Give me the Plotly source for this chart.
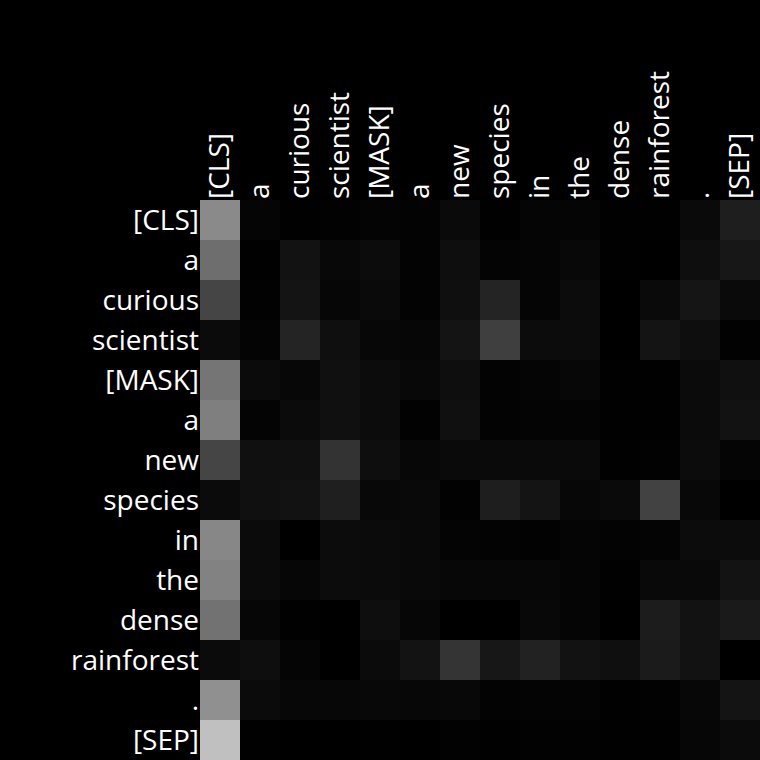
import plotly.graph_objects as go

tokens = ["[CLS]", "a", "curious", "scientist", "[MASK]", "a", "new",
          "species", "in", "the", "dense", "rainforest", ".", "[SEP]"]

attention = [
    [0.541, 0.020, 0.004, 0.008, 0.016, 0.012, 0.039, 0.004, 0.020, 0.020, 0.004, 0.004, 0.039, 0.118],
    [0.431, 0.004, 0.071, 0.031, 0.047, 0.012, 0.055, 0.016, 0.020, 0.031, 0.004, 0.000, 0.055, 0.090],
    [0.271, 0.008, 0.078, 0.024, 0.039, 0.012, 0.059, 0.141, 0.020, 0.047, 0.000, 0.039, 0.082, 0.039],
    [0.043, 0.016, 0.141, 0.059, 0.027, 0.024, 0.078, 0.247, 0.047, 0.047, 0.000, 0.078, 0.055, 0.008],
    [0.459, 0.043, 0.027, 0.063, 0.047, 0.031, 0.055, 0.012, 0.020, 0.027, 0.004, 0.004, 0.043, 0.063],
    [0.498, 0.016, 0.043, 0.063, 0.047, 0.008, 0.063, 0.012, 0.016, 0.016, 0.004, 0.004, 0.043, 0.071],
    [0.271, 0.063, 0.063, 0.200, 0.055, 0.027, 0.039, 0.039, 0.039, 0.039, 0.004, 0.008, 0.047, 0.020],
    [0.043, 0.063, 0.071, 0.122, 0.031, 0.035, 0.008, 0.118, 0.078, 0.027, 0.039, 0.259, 0.031, 0.000],
    [0.529, 0.043, 0.000, 0.047, 0.043, 0.035, 0.016, 0.012, 0.008, 0.020, 0.012, 0.016, 0.047, 0.047],
    [0.510, 0.043, 0.024, 0.047, 0.043, 0.035, 0.027, 0.027, 0.027, 0.020, 0.004, 0.035, 0.035, 0.075],
    [0.447, 0.024, 0.004, 0.000, 0.055, 0.024, 0.000, 0.000, 0.031, 0.020, 0.000, 0.110, 0.071, 0.102],
    [0.043, 0.055, 0.020, 0.000, 0.043, 0.075, 0.204, 0.090, 0.133, 0.071, 0.059, 0.106, 0.071, 0.000],
    [0.565, 0.043, 0.027, 0.027, 0.031, 0.027, 0.031, 0.012, 0.016, 0.016, 0.004, 0.008, 0.027, 0.078],
    [0.753, 0.004, 0.000, 0.000, 0.004, 0.000, 0.008, 0.004, 0.008, 0.008, 0.004, 0.004, 0.024, 0.043],
]

idx = list(range(len(tokens)))

fig = go.Figure(
    go.Heatmap(
        z=attention,
        x=idx,
        y=idx,
        colorscale=[[0, "black"], [1, "white"]],
        zmin=0,
        zmax=1,
        showscale=False,
    )
)

fig.update_layout(
    width=760,
    height=760,
    margin=dict(l=200, r=0, t=200, b=0),
    paper_bgcolor="black",
    plot_bgcolor="black",
    font=dict(family="Open Sans", size=28, color="white"),
)
fig.update_xaxes(
    side="top",
    tickangle=-90,
    tickmode="array",
    tickvals=idx,
    ticktext=tokens,
    showgrid=False,
    zeroline=False,
    ticks="",
    range=[-0.5, len(tokens) - 0.5],
)
fig.update_yaxes(
    autorange=False,
    range=[len(tokens) - 0.5, -0.5],
    tickmode="array",
    tickvals=idx,
    ticktext=tokens,
    showgrid=False,
    zeroline=False,
    ticks="",
)

fig.write_html("out.html")
